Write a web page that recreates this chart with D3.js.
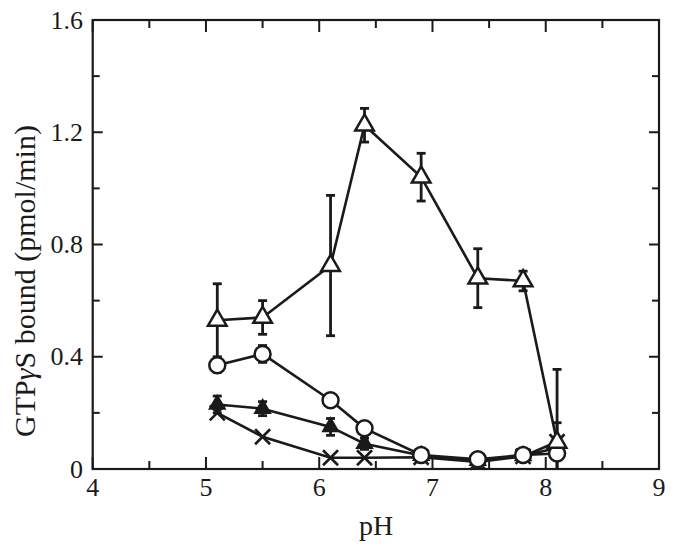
<!DOCTYPE html>
<html><head><meta charset="utf-8">
<script src="https://cdn.jsdelivr.net/npm/d3@7"></script>
<style>body{margin:0;background:#fff}svg{display:block}</style>
</head><body>
<svg id="c" width="674" height="547"></svg>
<script>
const pH = [5.1, 5.5, 6.1, 6.4, 6.9, 7.4, 7.8, 8.1];
const openTri = [0.53, 0.54, 0.725, 1.225, 1.04, 0.68, 0.67, 0.095];
const openTriErr = [0.13, 0.06, 0.25, 0.06, 0.085, 0.105, 0.035, 0.26];
const openCircle = [0.37, 0.41, 0.245, 0.145, 0.05, 0.035, 0.05, 0.055];
const openCircleErr = [0.025, 0.03, 0, 0, 0.01, 0.01, 0.01, 0];
const filledTri = [0.23, 0.215, 0.15, 0.09, 0.048, 0.03, 0.047, 0.075];
const filledTriErr = [0.03, 0.025, 0.03, 0.02, 0.012, 0.01, 0.01, 0.09];
const cross = [0.2, 0.115, 0.04, 0.04, 0.042, 0.025, 0.045, 0.097];
const xTicks = [4, 5, 6, 7, 8, 9];
const xMinor = [4.5, 5.5, 6.5, 7.5, 8.5];
const yTicks = [0, 0.4, 0.8, 1.2, 1.6];
const yMinor = [0.2, 0.6, 1.0, 1.4];

const svg = d3.select("#c");
const L = 92.7, R = 659, T = 20, B = 469;
const x = d3.scaleLinear().domain([4, 9]).range([L, R]);
const y = d3.scaleLinear().domain([0, 1.6]).range([B, T]);
const ink = "#1a1a1a";
const font = "'Liberation Serif', 'Times New Roman', Times, serif";

function ticks(vals, len) {
  vals.forEach(v => {
    svg.append("line").attr("x1", x(v)).attr("x2", x(v)).attr("y1", B).attr("y2", B - len).attr("stroke", ink).attr("stroke-width", 2);
    svg.append("line").attr("x1", x(v)).attr("x2", x(v)).attr("y1", T).attr("y2", T + len).attr("stroke", ink).attr("stroke-width", 2);
  });
}
function yt(vals, len) {
  vals.forEach(v => {
    svg.append("line").attr("y1", y(v)).attr("y2", y(v)).attr("x1", L).attr("x2", L + len).attr("stroke", ink).attr("stroke-width", 2);
    svg.append("line").attr("y1", y(v)).attr("y2", y(v)).attr("x1", R).attr("x2", R - len).attr("stroke", ink).attr("stroke-width", 2);
  });
}
ticks(xTicks, 12); ticks(xMinor, 8);
yt(yTicks, 10); yt(yMinor, 7);

svg.append("rect").attr("x", L).attr("y", T).attr("width", R - L).attr("height", B - T)
  .attr("fill", "none").attr("stroke", ink).attr("stroke-width", 2.2);

svg.selectAll(".xl").data(xTicks).enter().append("text")
  .attr("x", d => x(d)).attr("y", 496).attr("text-anchor", "middle")
  .attr("font-family", font).attr("font-size", 26).attr("fill", ink).text(d => d);
svg.selectAll(".yl").data(yTicks).enter().append("text")
  .attr("x", 83).attr("y", d => y(d) + 8.5).attr("text-anchor", "end")
  .attr("font-family", font).attr("font-size", 26).attr("fill", ink)
  .text(d => d === 0 ? "0" : d3.format(".1f")(d));

svg.append("text").attr("x", 376).attr("y", 535).attr("text-anchor", "middle")
  .attr("font-family", font).attr("font-size", 28).attr("fill", ink).text("pH");
const yl = svg.append("text").attr("transform", "translate(35,281) rotate(-90)").attr("text-anchor", "middle")
  .attr("font-family", font).attr("font-size", 30).attr("fill", ink);
yl.append("tspan").text("GTP");
yl.append("tspan").attr("font-style", "italic").text("γ");
yl.append("tspan").text("S bound (pmol/min)");

const line = d3.line().x(d => x(d[0])).y(d => y(d[1]));
const series = [cross, filledTri, openCircle, openTri];
series.forEach(s => {
  svg.append("path").datum(pH.map((p, i) => [p, s[i]])).attr("d", line)
    .attr("fill", "none").attr("stroke", ink).attr("stroke-width", 2.6);
});

function errBars(vals, errs) {
  pH.forEach((p, i) => {
    if (!errs[i]) return;
    const lo = Math.max(0, vals[i] - errs[i]), hi = vals[i] + errs[i];
    const g = svg.append("g").attr("stroke", ink).attr("stroke-width", 2.8);
    g.append("line").attr("x1", x(p)).attr("x2", x(p)).attr("y1", y(lo)).attr("y2", y(hi));
    g.append("line").attr("x1", x(p) - 4.5).attr("x2", x(p) + 4.5).attr("y1", y(hi)).attr("y2", y(hi));
    if (vals[i] - errs[i] > 0)
      g.append("line").attr("x1", x(p) - 4.5).attr("x2", x(p) + 4.5).attr("y1", y(lo)).attr("y2", y(lo));
  });
}
errBars(openTri, openTriErr);
errBars(openCircle, openCircleErr);
errBars(filledTri, filledTriErr);

const tri = d3.symbol().type(d3.symbolTriangle).size(150);
const triS = d3.symbol().type(d3.symbolTriangle).size(110);
const circ = d3.symbol().type(d3.symbolCircle).size(200);

pH.forEach((p, i) => {
  const h = 7.5;
  const g = svg.append("g").attr("stroke", ink).attr("stroke-width", 2.6);
  g.append("line").attr("x1", x(p) - h).attr("x2", x(p) + h).attr("y1", y(cross[i]) - h).attr("y2", y(cross[i]) + h);
  g.append("line").attr("x1", x(p) - h).attr("x2", x(p) + h).attr("y1", y(cross[i]) + h).attr("y2", y(cross[i]) - h);
});
svg.selectAll(".ft").data(pH).enter().append("path").attr("d", triS)
  .attr("transform", (p, i) => `translate(${x(p)},${y(filledTri[i])})`)
  .attr("fill", ink).attr("stroke", ink).attr("stroke-width", 1.5);
svg.selectAll(".oc").data(pH).enter().append("path").attr("d", circ)
  .attr("transform", (p, i) => `translate(${x(p)},${y(openCircle[i])})`)
  .attr("fill", "#fff").attr("stroke", ink).attr("stroke-width", 2.5);
svg.selectAll(".ot").data(pH).enter().append("path").attr("d", tri)
  .attr("transform", (p, i) => `translate(${x(p)},${y(openTri[i])})`)
  .attr("fill", "#fff").attr("stroke", ink).attr("stroke-width", 2.5);
</script>
</body></html>
